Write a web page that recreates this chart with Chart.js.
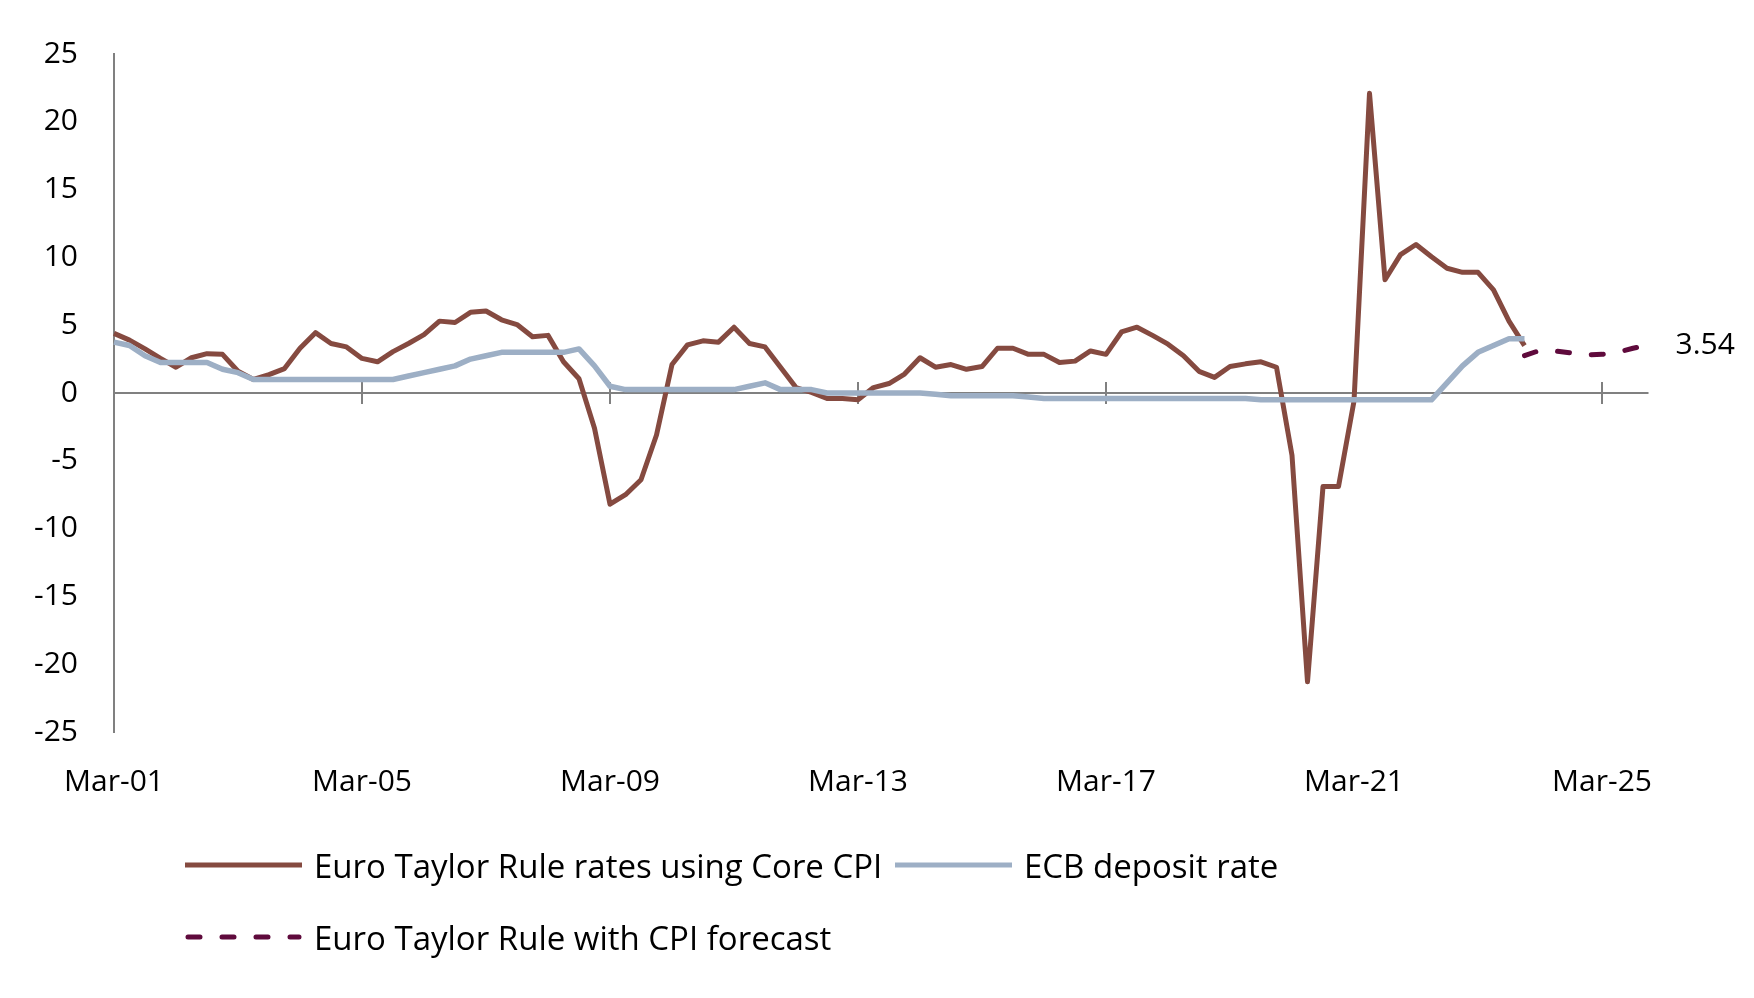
<!DOCTYPE html>
<html>
<head>
<meta charset="utf-8">
<script src="https://cdn.jsdelivr.net/npm/chart.js@4.4.1/dist/chart.umd.min.js"></script>
<style>
  html, body { margin: 0; padding: 0; background: #fff; }
  #wrap { position: relative; width: 1754px; height: 998px; }
  #legend { position: absolute; left: 0; top: 0; width: 1754px; height: 998px; pointer-events: none;
            font-family: "Open Sans", sans-serif; font-size: 33px; color: #000; }
  .item { position: absolute; display: flex; align-items: center; white-space: nowrap; height: 40px; }
  .item svg { margin-right: 12px; flex: none; }
</style>
</head>
<body>
<div id="wrap">
  <canvas id="chart" width="1754" height="998"></canvas>
  <div id="legend"></div>
</div>
<script>
// Quarterly labels, Mar-01 .. Dec-25
const quarters = ["Mar", "Jun", "Sep", "Dec"];
const labels = [];
for (let y = 2001; y <= 2025; y++) {
    for (const q of quarters) labels.push(q + "-" + String(y).slice(2));
}

// Euro Taylor Rule rates using Core CPI (Mar-01 .. Dec-23)
const taylorCore = [
    4.4, 3.9, 3.25, 2.55, 1.9, 2.6, 2.9, 2.85,
    1.6, 1.0, 1.35, 1.8, 3.3, 4.45, 3.65, 3.4,
    2.55, 2.3, 3.05, 3.65, 4.3, 5.3, 5.2, 5.95,
    6.05, 5.4, 5.05, 4.15, 4.25, 2.3, 1.05, -2.6,
    -8.2, -7.5, -6.4, -3.1, 2.1, 3.55, 3.85, 3.75,
    4.85, 3.65, 3.4, 1.9, 0.4, 0.05, -0.4, -0.4,
    -0.5, 0.4, 0.7, 1.4, 2.6, 1.9, 2.1, 1.75,
    1.95, 3.3, 3.3, 2.85, 2.85, 2.25, 2.35, 3.1,
    2.85, 4.5, 4.85, 4.25, 3.6, 2.75, 1.6, 1.15,
    1.95, 2.15, 2.3, 1.9, -4.6, -21.3, -6.9, -6.9,
    -0.6, 22.1, 8.35, 10.2, 10.95, 10.05, 9.2, 8.9,
    8.9, 7.6, 5.3, 3.5
];

// ECB deposit rate (Mar-01 .. Dec-23)
const ecbDeposit = [
    3.75, 3.5, 2.75, 2.25, 2.25, 2.25, 2.25, 1.75,
    1.5, 1.0, 1.0, 1.0, 1.0, 1.0, 1.0, 1.0,
    1.0, 1.0, 1.0, 1.25, 1.5, 1.75, 2.0, 2.5,
    2.75, 3.0, 3.0, 3.0, 3.0, 3.0, 3.25, 2.0,
    0.5, 0.25, 0.25, 0.25, 0.25, 0.25, 0.25, 0.25,
    0.25, 0.5, 0.75, 0.25, 0.25, 0.25, 0.0, 0.0,
    0.0, 0.0, 0.0, 0.0, 0.0, -0.1, -0.2, -0.2,
    -0.2, -0.2, -0.2, -0.3, -0.4, -0.4, -0.4, -0.4,
    -0.4, -0.4, -0.4, -0.4, -0.4, -0.4, -0.4, -0.4,
    -0.4, -0.4, -0.5, -0.5, -0.5, -0.5, -0.5, -0.5,
    -0.5, -0.5, -0.5, -0.5, -0.5, -0.5, 0.75, 2.0,
    3.0, 3.5, 4.0, 4.0
];

// Euro Taylor Rule with CPI forecast (Dec-23 .. Dec-25)
const forecastStart = 91;
const taylorForecast = [2.75, 3.15, 3.1, 2.95, 2.8, 2.85, 3.0, 3.3, 3.54];

const yTicks = { min: -25, max: 25, step: 5 };
const tickEvery = 16;

const colors = {
    core: "#854A40",
    ecb: "#9DAFC5",
    forecast: "#5F0A3C",
    axis: "#808080"
};

const forecastData = labels.map((_, i) =>
    i < forecastStart ? null : (taylorForecast[i - forecastStart] ?? null));

// zero line with crossing tick marks, drawn under the series
const zeroAxis = {
    id: "zeroAxis",
    beforeDatasetsDraw(chart) {
        const { ctx, chartArea, scales } = chart;
        const y0 = scales.y.getPixelForValue(0);
        ctx.save();
        ctx.strokeStyle = colors.axis;
        ctx.lineWidth = 2;
        ctx.beginPath();
        ctx.moveTo(chartArea.left, y0);
        ctx.lineTo(chartArea.right, y0);
        for (let i = tickEvery; i < labels.length; i += tickEvery) {
            const x = scales.x.getPixelForValue(i);
            ctx.moveTo(x, y0 - 11);
            ctx.lineTo(x, y0 + 11);
        }
        ctx.stroke();
        ctx.restore();
    }
};

// value label at the end of the forecast line
const endLabel = {
    id: "endLabel",
    afterDatasetsDraw(chart) {
        const meta = chart.getDatasetMeta(2);
        const pt = meta.data[meta.data.length - 1];
        const { ctx } = chart;
        ctx.save();
        ctx.font = '30px "Open Sans"';
        ctx.fillStyle = "#000";
        ctx.textAlign = "left";
        ctx.textBaseline = "middle";
        ctx.fillText(taylorForecast[taylorForecast.length - 1].toFixed(2), pt.x + 27, pt.y);
        ctx.restore();
    }
};

Chart.defaults.font.family = "Open Sans";
Chart.defaults.font.size = 30;
Chart.defaults.color = "#000";

const ctx = document.getElementById("chart").getContext("2d");
const chart = new Chart(ctx, {
    type: "line",
    data: {
        labels: labels,
        datasets: [
            {
                label: "Euro Taylor Rule rates using Core CPI",
                data: taylorCore,
                borderColor: colors.core,
                borderWidth: 5,
                order: 3
            },
            {
                label: "ECB deposit rate",
                data: ecbDeposit,
                borderColor: colors.ecb,
                borderWidth: 5.5,
                order: 2
            },
            {
                label: "Euro Taylor Rule with CPI forecast",
                data: forecastData,
                borderColor: colors.forecast,
                borderWidth: 5,
                borderDash: [12, 22],
                borderCapStyle: "round",
                order: 1
            }
        ]
    },
    options: {
        responsive: false,
        animation: false,
        devicePixelRatio: 1,
        layout: { padding: { top: 51, right: 105.5, bottom: 0, left: 0 } },
        elements: {
            point: { radius: 0 },
            line: { tension: 0, borderJoinStyle: "round", fill: false }
        },
        plugins: {
            legend: { display: false },
            tooltip: { enabled: false }
        },
        scales: {
            x: {
                type: "category",
                offset: false,
                grid: { display: false, drawTicks: false },
                border: { display: false },
                ticks: {
                    autoSkip: false,
                    maxRotation: 0,
                    padding: 32,
                    callback: (v, i) => (i % tickEvery === 0 ? labels[i] : null)
                },
                afterFit: (scale) => { scale.height = 266; }
            },
            y: {
                min: yTicks.min,
                max: yTicks.max,
                grid: { display: false, drawTicks: false },
                border: { display: true, color: colors.axis, width: 2 },
                ticks: { stepSize: yTicks.step, padding: 36 },
                afterFit: (scale) => { scale.width = 114; }
            }
        }
    },
    plugins: [zeroAxis, endLabel]
});

// legend
const legendItems = [
    { ds: 0, left: 185, top: 865 },
    { ds: 1, left: 895, top: 865 },
    { ds: 2, left: 185, top: 937 }
];
const legendEl = document.getElementById("legend");
legendItems.forEach((it) => {
    const ds = chart.data.datasets[it.ds];
    const div = document.createElement("div");
    div.className = "item";
    div.style.left = it.left + "px";
    div.style.top = (it.top - 20) + "px";
    const dashed = ds.borderDash
        ? `stroke-dasharray="${ds.borderDash.join(" ")}" stroke-linecap="round"`
        : `stroke-linecap="butt"`;
    const x1 = ds.borderDash ? 3 : 0;
    const x2 = ds.borderDash ? 114 : 117;
    div.innerHTML =
        `<svg width="117" height="12"><line x1="${x1}" y1="6" x2="${x2}" y2="6" stroke="${ds.borderColor}" stroke-width="5" ${dashed}/></svg>` +
        `<span>${ds.label}</span>`;
    legendEl.appendChild(div);
});
</script>
</body>
</html>
